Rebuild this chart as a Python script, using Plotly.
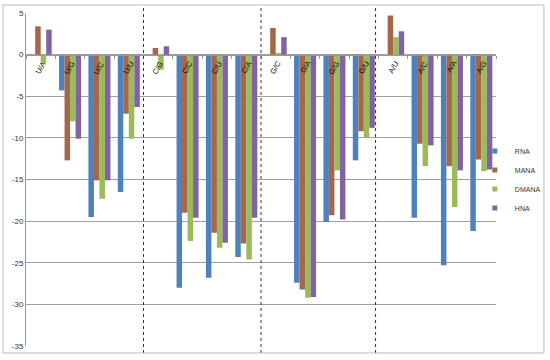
import plotly.graph_objects as go

categories = ["U/A", "U/G", "U/C", "U/U", "C/G", "C/C", "C/U", "C/A",
              "G/C", "G/A", "G/G", "G/U", "A/U", "A/C", "A/A", "A/G"]
rna   = [0.0, -4.3, -19.5, -16.5, 0.0, -28.0, -26.8, -24.3,
         0.0, -27.4, -20.1, -12.7, 0.0, -19.6, -25.3, -21.2]
mana  = [3.4, -12.7, -15.1, -7.1, 0.8, -19.0, -21.4, -22.7,
         3.2, -28.2, -19.3, -9.2, 4.7, -10.7, -13.4, -12.6]
dmana = [-1.0, -8.0, -17.3, -10.1, -1.8, -22.4, -23.2, -24.6,
         0.1, -29.2, -13.9, -9.9, 2.1, -13.4, -18.3, -14.0]
hna   = [3.0, -10.1, -15.1, -6.3, 1.0, -19.6, -22.6, -19.6,
         2.1, -29.1, -19.8, -8.8, 2.8, -10.9, -13.9, -13.8]
series_names = ["RNA", "MANA", "DMANA", "HNA"]
y_ticks = [5, 0, -5, -10, -15, -20, -25, -30, -35]

colors = ["#4F81BD", "#A5674A", "#9BBB59", "#8064A2"]
font = "Liberation Sans"

fig = go.Figure()
for name, vals, col in zip(series_names, [rna, mana, dmana, hna], colors):
    fig.add_trace(go.Bar(x=categories, y=vals, name=name, marker_color=col,
                         marker_line_width=0, legendgroup=name, showlegend=False))
for name, col in zip(series_names, colors):
    fig.add_trace(go.Scatter(x=[None], y=[None], mode="markers", name=name,
                             legendgroup=name,
                             marker=dict(symbol="square", size=5, color=col)))

ymin, ymax = -35, 5
zero_pos = (0 - ymin) / (ymax - ymin)

# category labels next to the zero line
for c in categories:
    fig.add_annotation(x=c, y=0, xref="x", yref="y", text=c, showarrow=False,
                       textangle=-60, xanchor="center", yanchor="top", yshift=-2,
                       font=dict(family=font, size=7.5, color="#000000"))

# group separators (dotted vertical lines)
for xb in [3.5, 7.5, 11.4]:
    fig.add_shape(type="line", xref="x", yref="paper", x0=xb, x1=xb,
                  y0=-0.021, y1=1.024, line=dict(color="#333333", width=1, dash="dot"))

# chart border
fig.add_shape(type="rect", xref="paper", yref="paper", x0=-0.049, x1=1.102,
              y0=-0.021, y1=1.024, line=dict(color="#BBBBBB", width=1))

fig.update_layout(
    width=550, height=360,
    margin=dict(l=26, r=54, t=13, b=14, autoexpand=False),
    paper_bgcolor="white", plot_bgcolor="white",
    barmode="group", bargap=0.25, bargroupgap=0.0,
    font=dict(family=font, size=8, color="#333333"),
    showlegend=True,
    legend=dict(x=0.955, y=0.5, xanchor="left", yanchor="middle",
                font=dict(size=7, color="#333333"), itemwidth=30,
                tracegroupgap=0, bgcolor="rgba(0,0,0,0)"),
    xaxis=dict(type="category", anchor="free", position=zero_pos,
               showline=True, linecolor="#999999", linewidth=1,
               ticks="outside", ticklen=3, tickcolor="#999999", tickson="boundaries",
               showticklabels=False,
               showgrid=False, zeroline=False, range=[-0.5, 15.5]),
    yaxis=dict(range=[ymin, ymax], tickvals=y_ticks, ticktext=[str(v) for v in y_ticks],
               showgrid=True, gridcolor="#A0A0A0", gridwidth=1,
               showline=True, linecolor="#999999", linewidth=1,
               zeroline=False, ticks="", tickfont=dict(size=8, color="#333333")),
)

fig.write_html("out.html", config={"displayModeBar": False},
               post_script="document.body.style.margin='0px';")
